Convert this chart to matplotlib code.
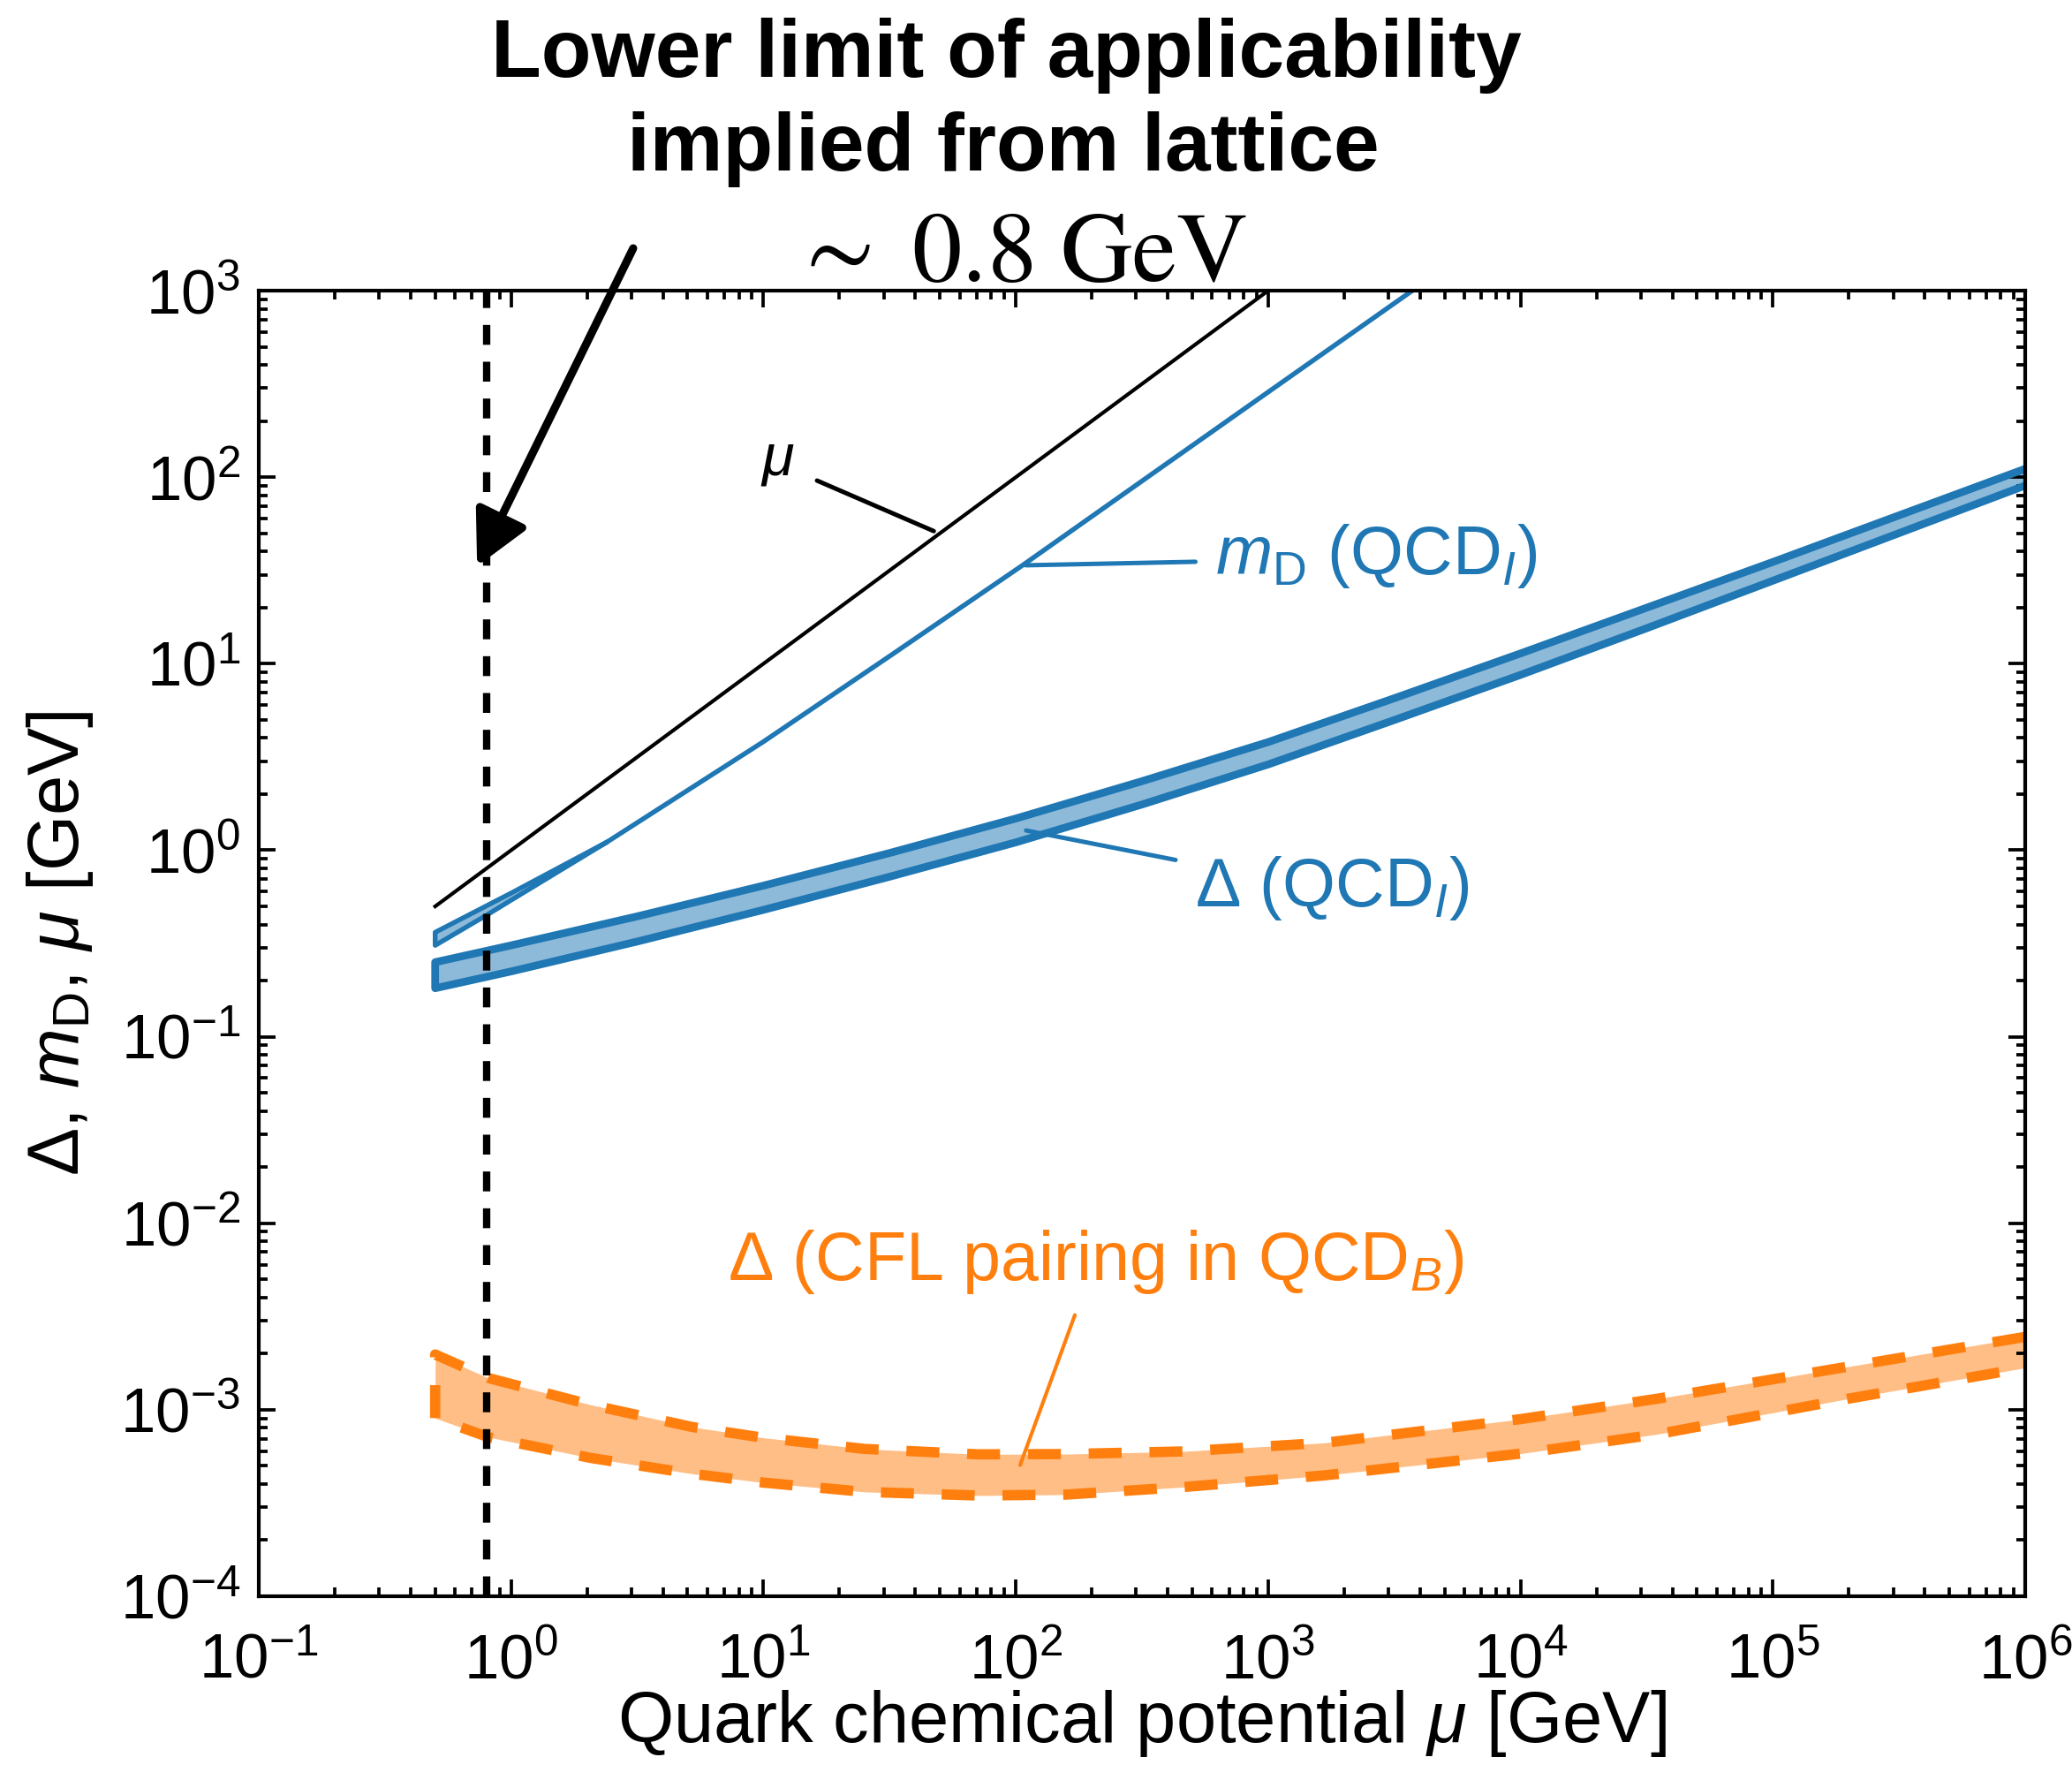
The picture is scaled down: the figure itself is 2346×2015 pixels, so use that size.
import numpy as np
import matplotlib.pyplot as plt
from matplotlib.ticker import LogLocator

plt.rcParams['font.family'] = ['Liberation Sans', 'DejaVu Sans']
plt.rcParams['mathtext.fontset'] = 'custom'
plt.rcParams['mathtext.rm'] = 'Liberation Sans'
plt.rcParams['mathtext.it'] = 'Liberation Sans:italic'
plt.rcParams['mathtext.bf'] = 'Liberation Sans:bold'

C_BLUE = '#1f77b4'
C_ORANGE = '#ff7f0e'

# mu itself (GeV)
mu_line = [0.5, 1000.0]

# Debye mass m_D (QCD_I): lower edge continues as a single line
mD_mu = [0.5, 0.8, 1.0, 2.4, 10, 32, 107, 316, 1000, 4000]
mD_low = [0.309, 0.449, 0.540, 1.107, 3.82, 11.1, 33.9, 95.3, 286, 1070]
mD_up_mu = [0.5, 1.0, 2.4]
mD_up = [0.363, 0.589, 1.107]

# gap Delta (QCD_I) band
gapI_mu = [0.5, 1, 3.16, 10, 31.6, 100, 316, 1000, 3162, 1e4, 3.16e4, 1e5, 3.16e5, 1e6]
gapI_up = [0.251, 0.309, 0.442, 0.646, 0.966, 1.479, 2.344, 3.80, 6.53, 11.35, 19.95, 35.1, 62.4, 110.9]
gapI_low = [0.182, 0.224, 0.324, 0.479, 0.721, 1.102, 1.758, 2.884, 4.99, 8.71, 15.49, 27.86, 50.1, 90.2]

# CFL gap in QCD_B band
cfl_mu = [0.5, 0.813, 2.065, 5.21, 10, 25.1, 70.8, 158.5, 459, 1671, 1e4, 3.51e4, 2.0e5, 1e6]
cfl_up = [1.98e-3, 1.48e-3, 1.064e-3, 8.09e-4, 7.08e-4, 6.17e-4, 5.77e-4, 5.79e-4,
          5.98e-4, 6.65e-4, 8.91e-4, 1.148e-3, 1.706e-3, 2.46e-3]
cfl_low = [9.02e-4, 7.13e-4, 5.52e-4, 4.54e-4, 4.07e-4, 3.63e-4, 3.47e-4, 3.51e-4,
           3.85e-4, 4.45e-4, 5.82e-4, 7.41e-4, 1.148e-3, 1.679e-3]

lattice_mu = 0.8

fig = plt.figure(figsize=(2346 / 300, 2015 / 300), dpi=300)
ax = fig.add_axes([0.1249, 0.1032, 0.8525, 0.7335])
ax.set_xscale('log')
ax.set_yscale('log')
ax.set_xlim(1e-1, 1e6)
ax.set_ylim(1e-4, 1e3)

# mu
ax.plot(mu_line, mu_line, color='k', lw=1.0)

# m_D band + line
poly_x = list(mD_up_mu) + [m for m in mD_mu if m <= mD_up_mu[-1]][::-1]
poly_y = list(mD_up) + [v for m, v in zip(mD_mu, mD_low) if m <= mD_up_mu[-1]][::-1]
ax.fill(poly_x, poly_y, color=C_BLUE, alpha=0.5, lw=0)
ax.plot(mD_up_mu[::-1] + mD_mu, mD_up[::-1] + mD_low, color=C_BLUE, lw=1.3,
        solid_joinstyle='round', solid_capstyle='round')

# Delta (QCD_I)
ax.fill_between(gapI_mu, gapI_low, gapI_up, color=C_BLUE, alpha=0.5, lw=0)
ax.plot(gapI_mu[::-1] + gapI_mu, gapI_up[::-1] + gapI_low, color=C_BLUE, lw=2.1,
        solid_joinstyle='round', solid_capstyle='round')

# Delta (CFL)
ax.fill_between(cfl_mu, cfl_low, cfl_up, color=C_ORANGE, alpha=0.5, lw=0)
ax.plot(cfl_mu[::-1] + cfl_mu, cfl_up[::-1] + cfl_low, color=C_ORANGE, lw=2.8,
        dashes=(3.2, 2.7))

# lattice lower limit
ax.axvline(lattice_mu, color='k', lw=2.0, dashes=(2.7, 2.3))

# labels with leader lines
lead = dict(arrowstyle='-', shrinkA=0, shrinkB=0, capstyle='round')
ax.annotate('', xy=(47.3, 51.4), xytext=(16.3, 95.9),
            arrowprops=dict(lead, color='k', lw=1.2))
ax.text(9.75, 103.5, r'$\mu$', fontsize=16, color='k')

ax.annotate('', xy=(109.6, 33.7), xytext=(515, 35.2),
            arrowprops=dict(lead, color=C_BLUE, lw=1.2))
ax.text(619, 30.1, r'$m_\mathrm{D}$ (QCD$_I$)', fontsize=18.5, color=C_BLUE)

ax.annotate('', xy=(109.9, 1.276), xytext=(429.5, 0.887),
            arrowprops=dict(lead, color=C_BLUE, lw=1.2))
ax.text(514, 0.499, r'Δ (QCD$_I$)', fontsize=18.5, color=C_BLUE)

ax.annotate('', xy=(104, 5.05e-4), xytext=(171.4, 3.22e-3),
            arrowprops=dict(lead, color=C_ORANGE, lw=1.0))
ax.text(7.23, 4.95e-3, r'Δ (CFL pairing in QCD$_B$)', fontsize=18.5, color=C_ORANGE)

# arrow and header text
ax.annotate('', xy=(0.733, 33.3), xycoords='data',
            xytext=(0.3056, 0.8605), textcoords='figure fraction',
            arrowprops=dict(arrowstyle='-|>,head_length=0.62,head_width=0.32',
                            mutation_scale=20, lw=2.2, color='k',
                            shrinkA=0, shrinkB=0),
            annotation_clip=False)
fig.text(0.4855, 0.9568, 'Lower limit of applicability', fontsize=22.3,
         fontweight='bold', ha='center', va='baseline')
fig.text(0.4842, 0.9042, 'implied from lattice', fontsize=22.3,
         fontweight='bold', ha='center', va='baseline')
fig.text(0.4919, 0.8422, r'$\sim\ 0.8\ \mathrm{GeV}$', fontsize=27,
         math_fontfamily='stix', ha='center', va='baseline')

# axes styling
for sp in ax.spines.values():
    sp.set_linewidth(1.0)
for axis in (ax.xaxis, ax.yaxis):
    axis.set_major_locator(LogLocator(base=10, numticks=20))
    axis.set_minor_locator(LogLocator(base=10, subs=np.arange(2, 10), numticks=100))
ax.tick_params(which='both', direction='in', top=True, right=True, width=0.9,
               labelsize=17)
ax.tick_params(which='major', length=4.5)
ax.tick_params(which='minor', length=2.5)
ax.tick_params(axis='x', pad=10)
ax.tick_params(axis='y', pad=5)

ax.set_xlabel(r'Quark chemical potential $\mu$ [GeV]', fontsize=19.5)
ax.set_ylabel(r'Δ, $m_\mathrm{D}$, $\mu$ [GeV]', fontsize=19.5)
ax.xaxis.set_label_coords(0.5, -0.070)
ax.yaxis.set_label_coords(-0.0925, 0.5)

fig.savefig('out.png', dpi=300)
